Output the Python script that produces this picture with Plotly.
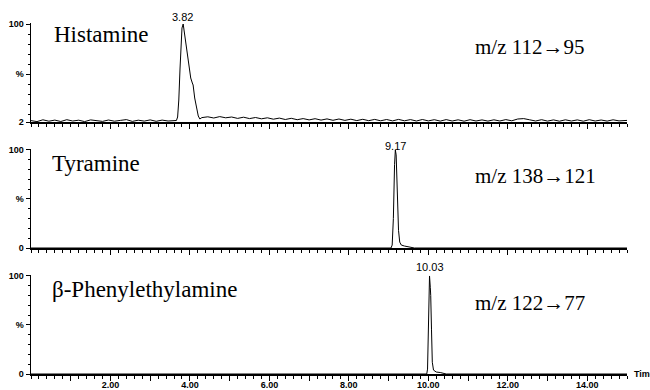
import plotly.graph_objects as go

# ---------------- data ----------------
# Histamine  (m/z 112->95), intensity in %
HIS_T = [0.00, 0.15, 0.30, 0.45, 0.60, 0.75, 0.90, 1.05, 1.20, 1.35, 1.50, 1.65, 1.80,
         1.95, 2.10, 2.25, 2.40, 2.55, 2.70, 2.85, 3.00, 3.15, 3.30, 3.45, 3.60,
         3.66, 3.69, 3.72, 3.75, 3.78, 3.80, 3.83, 3.86, 3.90, 3.93, 3.97, 4.02, 4.06,
         4.08, 4.12, 4.17, 4.21, 4.25,
         4.30, 4.45, 4.60, 4.75, 4.90, 5.05, 5.20, 5.35, 5.50, 5.65, 5.80, 5.95, 6.10,
         6.25, 6.40, 6.55, 6.70, 6.85, 7.00, 7.15, 7.30, 7.45, 7.60, 7.75, 7.90, 8.05,
         8.20, 8.35, 8.50, 8.65, 8.80, 8.95, 9.10, 9.25, 9.40, 9.55, 9.70, 9.85, 10.00,
         10.15, 10.30, 10.45, 10.60, 10.75, 10.90, 11.05, 11.20, 11.35, 11.50, 11.65,
         11.80, 11.95, 12.10, 12.25, 12.40, 12.55, 12.70, 12.85, 13.00, 13.15, 13.30,
         13.45, 13.60, 13.75, 13.90, 14.05, 14.20, 14.35, 14.50, 14.65, 14.80, 15.00]
HIS_Y = [3.4, 2.4, 4.2, 2.8, 3.9, 2.5, 4.3, 3.0, 3.8, 2.4, 4.1, 3.1, 2.6,
         4.0, 2.8, 3.6, 4.4, 2.6, 3.8, 2.9, 4.1, 2.7, 3.9, 3.0, 3.5,
         3.5, 7.0, 24.0, 55.0, 84.0, 96.0, 100.0, 92.0, 82.0, 74.0, 62.0, 46.0, 41.0,
         39.0, 26.0, 14.0, 8.0, 5.0,
         6.4, 7.2, 6.0, 7.4, 6.2, 7.0, 5.6, 6.8, 5.4, 6.5, 5.2, 6.2, 4.8,
         5.9, 4.5, 5.7, 4.3, 5.4, 4.1, 5.3, 3.9, 5.1, 3.7, 5.0, 3.6, 4.8,
         3.4, 4.7, 3.3, 4.6, 3.2, 4.5, 3.1, 4.6, 3.2, 4.4, 3.0, 4.5, 3.1,
         4.3, 2.9, 4.4, 3.0, 4.2, 2.8, 4.3, 3.0, 4.1, 2.9, 4.2,
         3.0, 4.4, 3.2, 5.0, 5.4, 4.2, 3.0, 4.3, 2.9, 4.1, 2.8,
         4.2, 3.0, 4.1, 2.8, 4.3, 3.0, 4.0, 2.9, 4.2, 3.1, 3.6]

# Tyramine (m/z 138->121)
TYR_T = [0.00, 9.06, 9.09, 9.12, 9.15, 9.17, 9.19, 9.22, 9.25, 9.28, 9.32, 9.40, 9.50, 9.58, 9.65, 15.00]
TYR_Y = [0.0, 0.0, 3.0, 30.0, 85.0, 100.0, 95.0, 55.0, 18.0, 6.0, 3.0, 2.0, 1.5, 0.5, 0.0, 0.0]

# beta-Phenylethylamine (m/z 122->77)
PEA_T = [0.00, 9.96, 9.98, 10.00, 10.02, 10.03, 10.05, 10.06, 10.08, 10.10, 10.13, 10.20, 10.30, 10.40, 10.45, 15.00]
PEA_Y = [0.0, 0.0, 5.0, 45.0, 92.0, 100.0, 88.0, 80.0, 45.0, 12.0, 4.0, 2.0, 1.5, 0.5, 0.0, 0.0]

COMPOUNDS = ["Histamine", "Tyramine", "β-Phenylethylamine"]
TRANSITIONS = ["m/z 112→95", "m/z 138→121", "m/z 122→77"]
PEAK_RT = [3.82, 9.17, 10.03]
PEAK_LABELS = ["3.82", "9.17", "10.03"]
X_TICKS = [1, 2, 3, 4, 5, 6, 7, 8, 9, 10, 11, 12, 13, 14]
X_TICK_TEXT = ["", "2.00", "", "4.00", "", "6.00", "", "8.00", "", "10.00", "", "12.00", "", "14.00"]
Y_TICKS_1 = [2, 50, 100]
Y_TICKS_23 = [0, 50, 100]
Y_TICK_TEXT_1 = ["2", "%", "100"]
Y_TICK_TEXT_23 = ["0", "%", "100"]

# ---------------- layout geometry (pixels) ----------------
W, H = 650, 390
L, R = 31, 23
PW = W - L - R


def px_x(p):
    return (p - L) / PW


def px_y(p):
    return 1 - p / H


# panels: (pixel of top of range, pixel of bottom)
panels = [(22.5, 122), (148.5, 248), (274.5, 374)]

fig = go.Figure()
series = [(HIS_T, HIS_Y), (TYR_T, TYR_Y), (PEA_T, PEA_Y)]
for i, (t, y) in enumerate(series):
    sfx = "" if i == 0 else str(i + 1)
    fig.add_trace(go.Scatter(x=t, y=y, mode="lines", xaxis="x" + sfx, yaxis="y" + sfx,
                             line=dict(color="black", width=1), showlegend=False,
                             hoverinfo="skip"))

tickfont = dict(family="Liberation Sans, Arial", size=9, color="black", weight="bold")

layout = dict(width=W, height=H, margin=dict(l=L, r=R, t=0, b=0),
              paper_bgcolor="white", plot_bgcolor="white", template="none",
              showlegend=False)

for i, (top, bot) in enumerate(panels):
    sfx = "" if i == 0 else str(i + 1)
    key_num = "" if i == 0 else str(i + 1)
    layout["xaxis" + key_num] = dict(
        domain=[0, 1], range=[0, 15], anchor="y" + sfx,
        showline=True, linecolor="black", linewidth=1.5, mirror=False,
        showgrid=False, zeroline=False,
        tickmode="array", tickvals=X_TICKS, ticktext=X_TICK_TEXT,
        ticks="outside", ticklen=5, tickwidth=1, tickcolor="black",
        showticklabels=(i == 2), tickfont=tickfont, ticklabelstandoff=-3,
        minor=dict(tick0=0, dtick=0.2, ticks="outside", ticklen=3, tickwidth=1, tickcolor="black",
                   showgrid=False),
        automargin=False, fixedrange=True)
    layout["yaxis" + key_num] = dict(
        domain=[px_y(bot), px_y(top)],
        range=[2, 101.5] if i == 0 else [0, 101.5],
        anchor="x" + sfx,
        showline=True, linecolor="black", linewidth=1.5,
        showgrid=False, zeroline=False,
        tickmode="array", tickvals=Y_TICKS_1 if i == 0 else Y_TICKS_23,
        ticktext=Y_TICK_TEXT_1 if i == 0 else Y_TICK_TEXT_23,
        ticks="outside", ticklen=4, tickwidth=1, tickcolor="black",
        tickfont=tickfont,
        minor=dict(tick0=0, dtick=10, ticks="outside", ticklen=2, tickwidth=1, tickcolor="black",
                   showgrid=False),
        automargin=False, fixedrange=True)

fig.update_layout(**layout)

serif = dict(family="Liberation Serif, Times New Roman", color="black")
ann = []
name_pos = [(52, 34), (50, 163), (50, 289)]
trans_pos = [(473, 47), (473, 176), (473, 303)]
label_y = [17, 146, 267]
for i in range(3):
    sfx = "" if i == 0 else str(i + 1)
    ann.append(dict(text=COMPOUNDS[i], xref="paper", yref="paper",
                    x=px_x(name_pos[i][0]), y=px_y(name_pos[i][1]),
                    xanchor="left", yanchor="middle", showarrow=False,
                    font=dict(size=23, **serif)))
    ann.append(dict(text=TRANSITIONS[i], xref="paper", yref="paper",
                    x=px_x(trans_pos[i][0]), y=px_y(trans_pos[i][1]),
                    xanchor="left", yanchor="middle", showarrow=False,
                    font=dict(size=21, **serif)))
    ann.append(dict(text=PEAK_LABELS[i], xref="x" + sfx, yref="paper",
                    x=PEAK_RT[i], y=px_y(label_y[i]),
                    xanchor="center", yanchor="middle", showarrow=False,
                    font=dict(family="Liberation Sans, Arial", size=11, color="black")))
ann.append(dict(text="Time", xref="paper", yref="paper", x=px_x(632), y=px_y(374),
                xanchor="left", yanchor="middle", showarrow=False,
                font=dict(family="Liberation Sans, Arial", size=9, color="black", weight="bold")))
fig.update_layout(annotations=ann)

fig.write_html("out.html", config={"displayModeBar": False, "staticPlot": True},
               post_script="document.body.style.margin='0';document.body.style.overflow='hidden';")
